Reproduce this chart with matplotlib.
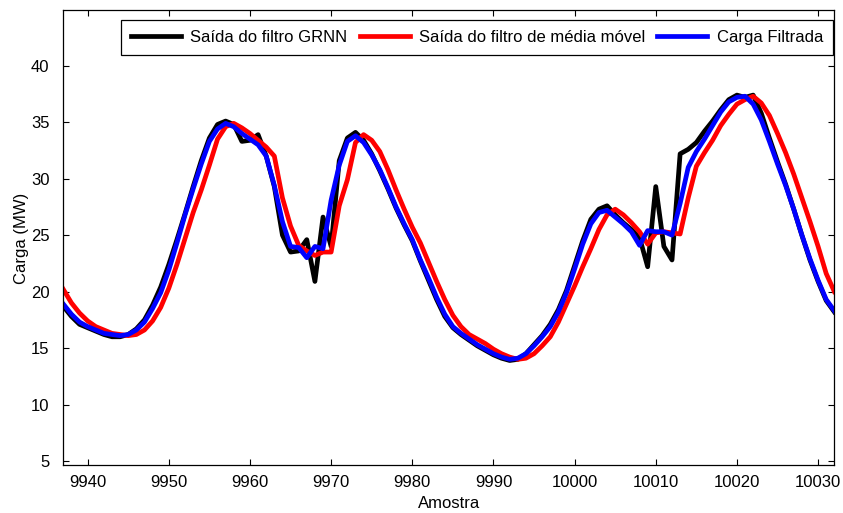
import numpy as np
import matplotlib
matplotlib.use("Agg")
import matplotlib.pyplot as plt

plt.rcParams['font.family'] = ['Liberation Sans', 'DejaVu Sans']

# amostras 9937 .. 10032
amostra = np.arange(9937, 10033)

saida_grnn = [
    18.7, 17.8, 17.1, 16.8, 16.5, 16.2, 16.0, 16.0, 16.2, 16.7,
    17.5, 18.8, 20.4, 22.4, 24.6, 26.9, 29.3, 31.6, 33.6, 34.8,
    35.1, 34.8, 33.3, 33.4, 33.9, 32.0, 29.3, 25.0, 23.5, 23.6,
    24.6, 20.9, 26.6, 24.0, 31.6, 33.6, 34.1, 33.4, 32.2, 30.7,
    29.1, 27.4, 25.9, 24.5, 22.7, 21.0, 19.3, 17.8, 16.8, 16.2,
    15.7, 15.2, 14.8, 14.4, 14.1, 13.9, 14.0, 14.5, 15.3, 16.1,
    17.1, 18.4, 20.1, 22.3, 24.5, 26.4, 27.3, 27.6, 26.8, 26.1,
    25.5, 24.8, 22.2, 29.3, 24.0, 22.8, 32.2, 32.6, 33.2, 34.2,
    35.1, 36.1, 37.0, 37.4, 37.2, 37.4, 35.8, 33.6, 31.5, 29.5,
    27.3, 25.0, 22.8, 20.9, 19.2, 18.2,
]

media_movel = [
    20.2, 19.0, 18.1, 17.4, 16.9, 16.6, 16.3, 16.2, 16.1, 16.2,
    16.6, 17.4, 18.6, 20.3, 22.4, 24.7, 27.0, 29.0, 31.2, 33.5,
    34.6, 34.9, 34.5, 34.0, 33.4, 32.8, 32.0, 28.3, 25.8, 24.1,
    23.6, 23.2, 23.5, 23.5, 27.6, 29.9, 33.2, 33.9, 33.4, 32.4,
    30.8, 29.0, 27.3, 25.7, 24.3, 22.6, 20.9, 19.3, 17.9, 16.9,
    16.2, 15.8, 15.4, 14.9, 14.5, 14.2, 14.0, 14.1, 14.5, 15.2,
    16.0, 17.3, 18.9, 20.5, 22.2, 23.8, 25.5, 26.8, 27.3, 26.8,
    26.1, 25.3, 24.2, 25.2, 25.3, 25.2, 25.1, 28.3, 31.1, 32.3,
    33.4, 34.7, 35.7, 36.6, 37.0, 37.3, 36.7, 35.6, 34.0, 32.3,
    30.4, 28.3, 26.2, 24.0, 21.6, 20.0,
]

carga_filtrada = [
    18.9, 18.0, 17.3, 16.9, 16.6, 16.3, 16.2, 16.1, 16.2, 16.6,
    17.3, 18.5, 19.9, 21.9, 24.3, 26.8, 29.1, 31.3, 33.3, 34.4,
    34.9, 34.6, 34.0, 33.5, 33.0, 32.0, 29.4, 26.2, 24.0, 23.9,
    23.0, 24.0, 23.8, 28.1, 31.2, 33.3, 33.8, 33.2, 32.1, 30.8,
    29.2, 27.5, 26.0, 24.6, 22.8, 21.2, 19.5, 18.0, 16.9, 16.3,
    15.8, 15.3, 14.9, 14.5, 14.2, 14.0, 14.1, 14.5, 15.2, 16.0,
    16.9, 18.2, 19.9, 22.0, 24.2, 26.0, 27.0, 27.2, 26.6, 26.0,
    25.3, 24.1, 25.4, 25.3, 25.3, 25.0, 27.8, 31.0, 32.4, 33.5,
    34.7, 35.9, 36.8, 37.2, 37.3, 36.6, 35.2, 33.3, 31.3, 29.4,
    27.3, 25.0, 22.9, 21.0, 19.3, 18.3,
]

fig = plt.figure(figsize=(8.43, 5.13), dpi=100)
ax = fig.add_axes([0.0751, 0.0926, 0.9146, 0.8871])

lw = 3.4
ax.plot(amostra, saida_grnn, color='k', linewidth=lw, label='Saída do filtro GRNN')
ax.plot(amostra, media_movel, color=(1, 0, 0), linewidth=lw, label='Saída do filtro de média móvel')
ax.plot(amostra, carga_filtrada, color=(0, 0, 1), linewidth=lw, label='Carga Filtrada')

ax.set_xlim(9937, 10032)
ax.set_ylim(4.6, 44.9)
ax.set_xticks(np.arange(9940, 10031, 10))
ax.set_yticks(np.arange(5, 41, 5))

ax.tick_params(direction='in', length=4.5, width=0.8, top=True, right=True,
               labelsize=12)
ax.tick_params(axis='x', pad=7)
ax.tick_params(axis='y', pad=10)
for s in ax.spines.values():
    s.set_linewidth(0.9)

ax.set_xlabel('Amostra', fontsize=12, labelpad=4)
ax.set_ylabel('Carga (MW)', fontsize=12, labelpad=1)

leg = ax.legend(loc='upper right', bbox_to_anchor=(0.9983, 0.979), ncol=3,
                fontsize=12, frameon=True, fancybox=False, framealpha=1,
                borderaxespad=0, handlelength=3.0, handletextpad=0.55,
                columnspacing=0.75, borderpad=0.6)
leg.get_frame().set_edgecolor('k')
leg.get_frame().set_linewidth(0.9)

fig.savefig('out.png', dpi=100)
